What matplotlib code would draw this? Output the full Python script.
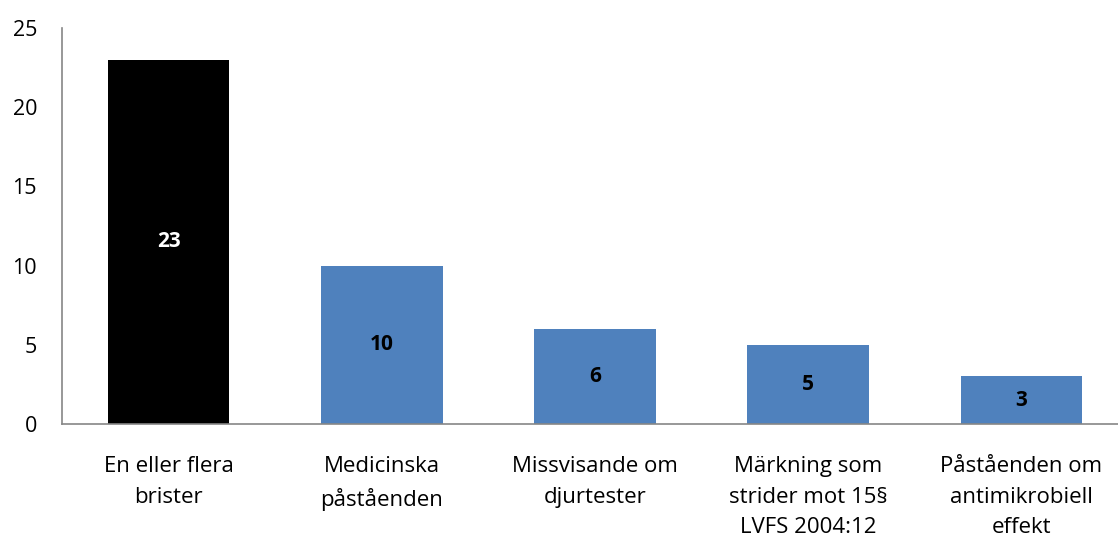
import matplotlib.pyplot as plt

plt.rcParams['font.family'] = ['Open Sans', 'DejaVu Sans']

# data
categories = ['En eller flera\nbrister', 'Medicinska\npåståenden', 'Missvisande om\ndjurtester',
              'Märkning som\nstrider mot 15§\nLVFS 2004:12', 'Påståenden om\nantimikrobiell\neffekt']
counts = [23, 10, 6, 5, 3]
bar_colors = ['#000000', '#4F81BD', '#4F81BD', '#4F81BD', '#4F81BD']
label_colors = ['white', 'black', 'black', 'black', 'black']

fig = plt.figure(figsize=(11.18, 5.38), dpi=100)
ax = fig.add_axes([62 / 1118, 114 / 538, 1066 / 1118, 396 / 538])

x = range(len(categories))
bars = ax.bar(x, counts, width=0.57, color=bar_colors)

# value labels in the middle of each bar
for b, v, c in zip(bars, counts, label_colors):
    ax.text(b.get_x() + b.get_width() / 2, v / 2, str(v), ha='center', va='center',
            fontsize=15, fontweight='bold', color=c)

ax.set_xlim(-0.5, 4.5)
ax.set_ylim(0, 25)
ax.set_yticks([0, 5, 10, 15, 20, 25])
ax.set_xticks(list(x))
ax.set_xticklabels(categories, fontsize=16, linespacing=1.6)
ax.tick_params(axis='y', length=0, pad=18, labelsize=15.5)
ax.tick_params(axis='x', length=0, pad=23)

for s in ['top', 'right']:
    ax.spines[s].set_visible(False)
for s in ['left', 'bottom']:
    ax.spines[s].set_color('#868686')
    ax.spines[s].set_linewidth(1.2)

fig.savefig('out.png', dpi=100)
